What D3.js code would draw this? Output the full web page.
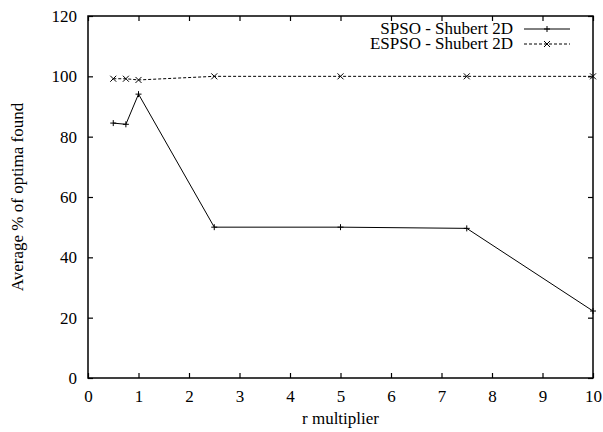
<!DOCTYPE html>
<html>
<head>
<meta charset="utf-8">
<script src="https://cdn.jsdelivr.net/npm/d3@7"></script>
</head>
<body style="margin:0;background:#fff">
<svg id="chart" width="603" height="432"></svg>
<script>
var rValues = [0.5, 0.75, 1, 2.5, 5, 7.5, 10]
var spso    = [84.5, 84.1, 94.1, 50, 50, 49.6, 22.2]
var espso   = [99.2, 99.2, 98.8, 100, 100, 100, 100]
var xTicks  = [0, 1, 2, 3, 4, 5, 6, 7, 8, 9, 10]
var yTicks  = [0, 20, 40, 60, 80, 100, 120]
var seriesNames = ['SPSO - Shubert 2D', 'ESPSO - Shubert 2D']

var font = 'Liberation Serif'
var margin = {left: 88, right: 10, top: 16, bottom: 54}
var width = 603 - margin.left - margin.right
var height = 432 - margin.top - margin.bottom

var svg = d3.select('#chart')
var g = svg.append('g').attr('transform', 'translate(' + margin.left + ',' + margin.top + ')')

var x = d3.scaleLinear().domain([0, 10]).range([0, width])
var y = d3.scaleLinear().domain([0, 120]).range([height, 0])

// ticks point inward, mirrored on top and right like gnuplot
var tick = 5
g.append('g').attr('transform', 'translate(0,' + height + ')')
  .call(d3.axisBottom(x).tickValues(xTicks).tickSize(-tick).tickPadding(12))
g.append('g')
  .call(d3.axisTop(x).tickValues(xTicks).tickSize(-tick).tickFormat(''))
g.append('g')
  .call(d3.axisLeft(y).tickValues(yTicks).tickSize(-tick).tickPadding(11))
g.append('g').attr('transform', 'translate(' + width + ',0)')
  .call(d3.axisRight(y).tickValues(yTicks).tickSize(-tick).tickFormat(''))
g.selectAll('.domain').remove()
g.selectAll('.tick line').attr('stroke-width', 1.2)
g.append('rect').attr('width', width).attr('height', height)
  .attr('fill', 'none').attr('stroke', '#000').attr('stroke-width', 1.5)

var line = d3.line().x(function(d){ return x(d[0]) }).y(function(d){ return y(d[1]) })
var spsoData = rValues.map(function(r, i){ return [r, spso[i]] })
var espsoData = rValues.map(function(r, i){ return [r, espso[i]] })

g.append('path').attr('d', line(spsoData)).attr('fill', 'none').attr('stroke', '#000').attr('stroke-width', 1)
g.append('path').attr('d', line(espsoData)).attr('fill', 'none').attr('stroke', '#000')
  .attr('stroke-width', 1).attr('stroke-dasharray', '3,2')

function plus(sel, px, py){
  sel.append('path').attr('d', 'M' + (px - 3) + ',' + py + 'H' + (px + 3) + 'M' + px + ',' + (py - 3) + 'V' + (py + 3))
    .attr('stroke', '#000').attr('stroke-width', 1)
}
function cross(sel, px, py){
  sel.append('path').attr('d', 'M' + (px - 3) + ',' + (py - 3) + 'L' + (px + 3) + ',' + (py + 3) + 'M' + (px - 3) + ',' + (py + 3) + 'L' + (px + 3) + ',' + (py - 3))
    .attr('stroke', '#000').attr('stroke-width', 1)
}
spsoData.forEach(function(d){ plus(g, x(d[0]), y(d[1])) })
espsoData.forEach(function(d){ cross(g, x(d[0]), y(d[1])) })

// legend
var leg = svg.append('g')
var lx = 513, ly = [29, 44]
seriesNames.forEach(function(name, i){
  leg.append('text').attr('x', lx).attr('y', ly[i] + 5)
    .attr('text-anchor', 'end').text(name)
  var ln = leg.append('line').attr('x1', 524).attr('x2', 570).attr('y1', ly[i]).attr('y2', ly[i])
    .attr('stroke', '#000').attr('stroke-width', 1)
  if (i == 1) ln.attr('stroke-dasharray', '3,2')
  if (i == 0) plus(leg, 547, ly[i])
  else cross(leg, 547, ly[i])
})

svg.append('text').attr('x', margin.left + width / 2).attr('y', 424)
  .attr('text-anchor', 'middle').text('r multiplier')
svg.append('text').attr('transform', 'translate(23,' + (margin.top + height / 2) + ') rotate(-90)')
  .attr('text-anchor', 'middle').text('Average % of optima found')

svg.selectAll('text').attr('font-family', font).attr('font-size', 17).attr('fill', '#000')
</script>
</body>
</html>
